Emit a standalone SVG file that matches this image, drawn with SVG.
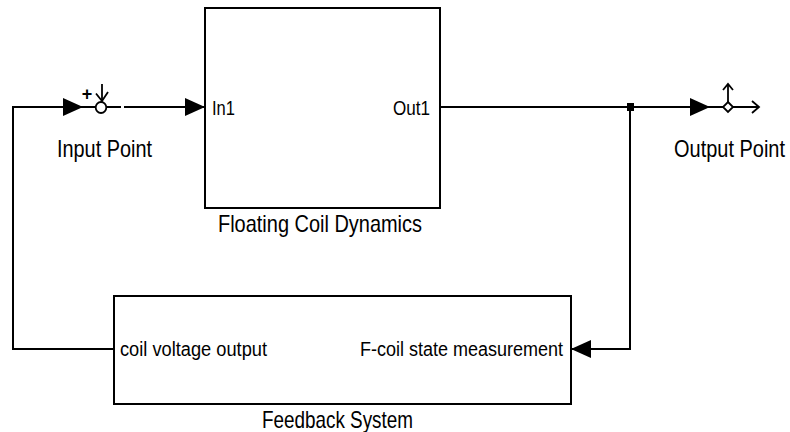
<svg xmlns="http://www.w3.org/2000/svg" width="790" height="432" viewBox="0 0 790 432">
  <style>
    .box { fill: #ffffff; stroke: #000000; stroke-width: 2; }
    .ln { fill: none; stroke: #000000; stroke-width: 2; }
    .thin { fill: none; stroke: #000000; stroke-width: 1.8; }
    .head { fill: #000000; stroke: none; }
    .lbl { font-family: "Liberation Sans", Arial, sans-serif; font-size: 20px; fill: #000000; }
    .port { font-family: "Liberation Sans", Arial, sans-serif; font-size: 18px; fill: #000000; }
  </style>
  <defs>
    <marker id="arr" viewBox="0 0 20 18" refX="20" refY="9" markerWidth="20" markerHeight="18" markerUnits="userSpaceOnUse" orient="auto">
      <path d="M0,0 L20,9 L0,18 Z" class="head"/>
    </marker>
  </defs>
  <rect width="790" height="432" fill="#ffffff"/>

  <g id="connectors">
    <!-- feedback to input point -->
    <polyline class="ln" points="114,349 13,349 13,107 83,107" marker-end="url(#arr)"/>
    <!-- input point to In1 -->
    <line class="ln" x1="124" y1="107" x2="205" y2="107" marker-end="url(#arr)"/>
    <!-- Out1 to output point -->
    <line class="ln" x1="440" y1="107" x2="710" y2="107" marker-end="url(#arr)"/>
    <!-- branch to feedback input -->
    <polyline class="ln" points="630,107 630,349 571,349" marker-end="url(#arr)"/>
    <rect x="627" y="103" width="7" height="8" class="head"/>
  </g>

  <g id="input-point">
    <line class="ln" x1="83" y1="107" x2="96" y2="107"/>
    <ellipse cx="101" cy="107.5" rx="5.3" ry="5.5" class="thin" fill="#ffffff"/>
    <line class="ln" x1="106.5" y1="107" x2="121" y2="107"/>
    <line class="thin" x1="102" y1="84" x2="102" y2="101.5"/>
    <polyline class="thin" points="96,93.5 102,101 108,92"/>
    <text x="87" y="100" class="port" text-anchor="middle" font-weight="bold" font-size="14">+</text>
    <text transform="translate(57,157) scale(1,1.18)" class="lbl" textLength="95" lengthAdjust="spacingAndGlyphs">Input Point</text>
  </g>

  <g id="floating-coil-dynamics">
    <rect x="205" y="8" width="235" height="200" class="box"/>
    <text transform="translate(212,115) scale(1,1.15)" class="port" textLength="23" lengthAdjust="spacingAndGlyphs">In1</text>
    <text transform="translate(393,115) scale(1,1.15)" class="port" textLength="37" lengthAdjust="spacingAndGlyphs">Out1</text>
    <text transform="translate(218,232) scale(1,1.18)" class="lbl" textLength="204" lengthAdjust="spacingAndGlyphs">Floating Coil Dynamics</text>
  </g>

  <g id="feedback-system">
    <rect x="114" y="296" width="457" height="108" class="box"/>
    <text transform="translate(120,356) scale(1,1.1)" class="port" textLength="147" lengthAdjust="spacingAndGlyphs">coil voltage output</text>
    <text transform="translate(360,356) scale(1,1.1)" class="port" textLength="203" lengthAdjust="spacingAndGlyphs">F-coil state measurement</text>
    <text transform="translate(262,428) scale(1,1.18)" class="lbl" textLength="151" lengthAdjust="spacingAndGlyphs">Feedback System</text>
  </g>

  <g id="output-point">
    <line class="ln" x1="710" y1="107" x2="723" y2="107"/>
    <path d="M728,102 L733,107 L728,112 L723,107 Z" class="thin" fill="#ffffff"/>
    <line class="thin" x1="728" y1="102" x2="728" y2="84"/>
    <polyline class="thin" points="723,90 728,84 733,90"/>
    <line class="ln" x1="733" y1="107" x2="758" y2="107"/>
    <polyline class="thin" points="752,101 759,107 752,113"/>
    <text transform="translate(674,157) scale(1,1.18)" class="lbl" textLength="111" lengthAdjust="spacingAndGlyphs">Output Point</text>
  </g>
</svg>
